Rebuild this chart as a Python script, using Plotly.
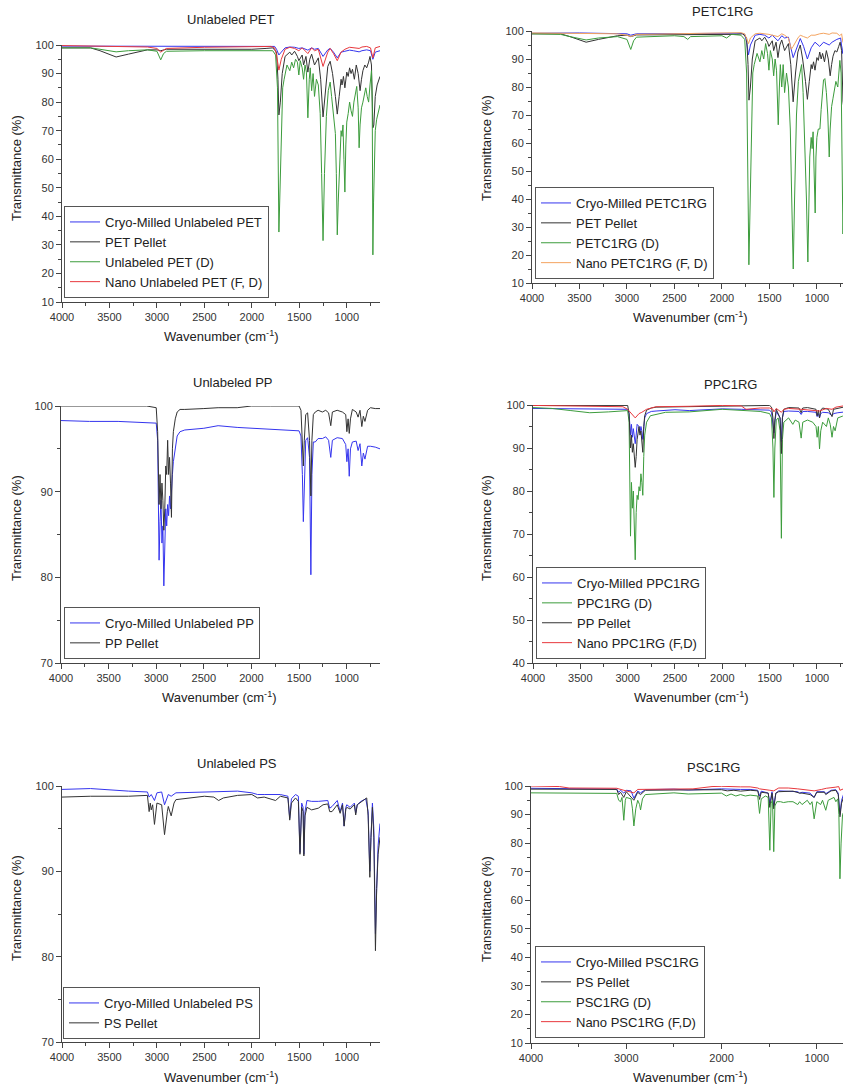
import plotly.graph_objects as go

W, H = 843, 1084
FONT = "Liberation Sans, Arial, sans-serif"

# ---------------- data: (wavenumber cm-1, transmittance %) ----------------
# Panel 1: Unlabeled PET
pet_cryo = [(4000,99.6),(3500,99.6),(3000,99.5),(2500,99.5),(2000,99.5),(1800,99.6),(1760,99.5),(1740,98.5),(1715,96.5),(1690,97.5),(1650,99.0),(1600,99.3),(1550,99.2),(1505,98.8),(1470,99.0),(1410,98.2),(1370,99.0),(1340,98.5),(1300,98.8),(1250,96.0),(1200,98.3),(1175,98.8),(1140,97.5),(1100,95.5),(1060,97.5),(1020,97.8),(970,98.2),(930,98.0),(870,97.6),(840,98.0),(790,98.3),(750,98.0),(725,95.0),(700,97.5),(650,98.0)]
pet_pellet = [(4000,99.0),(3700,99.0),(3600,98.0),(3430,95.8),(3300,96.8),(3100,98.3),(3000,98.3),(2960,98.0),(2900,98.5),(2500,98.5),(2000,98.5),(1850,98.8),(1780,99.0),(1740,97.5),(1725,88.0),(1715,75.5),(1700,80.0),(1680,90.0),(1650,96.0),(1600,97.5),(1580,96.5),(1550,97.8),(1520,96.0),(1505,94.5),(1470,96.5),(1455,93.0),(1430,96.0),(1410,90.5),(1390,95.0),(1370,96.8),(1340,93.0),(1300,95.5),(1275,88.0),(1250,74.8),(1225,85.0),(1200,92.5),(1175,94.3),(1150,90.0),(1120,82.0),(1100,75.8),(1080,82.0),(1060,88.0),(1050,86.0),(1035,89.0),(1020,85.0),(1000,90.5),(985,89.0),(970,92.0),(955,90.0),(940,91.5),(920,88.0),(900,93.0),(880,90.0),(870,86.5),(860,84.0),(845,88.0),(830,91.0),(810,93.0),(790,92.0),(770,94.0),(755,96.0),(740,93.0),(730,80.0),(725,71.0),(715,72.0),(700,82.0),(680,86.0),(665,88.0),(650,89.0)]
pet_d = [(4000,99.0),(3700,99.0),(3600,98.5),(3430,97.6),(3300,98.0),(3100,98.3),(3000,97.8),(2960,94.8),(2930,97.0),(2900,97.8),(2500,98.0),(2000,98.0),(1850,98.2),(1780,98.0),(1750,96.5),(1730,85.0),(1715,34.5),(1700,55.0),(1690,75.0),(1675,85.0),(1660,88.0),(1630,93.0),(1600,91.0),(1580,94.0),(1560,92.0),(1540,95.0),(1520,94.0),(1505,89.5),(1490,94.5),(1470,92.0),(1455,88.0),(1440,93.0),(1425,90.5),(1410,74.5),(1395,88.0),(1385,92.0),(1370,84.0),(1355,90.0),(1340,82.0),(1320,88.0),(1300,86.0),(1280,76.0),(1265,55.0),(1250,31.5),(1235,55.0),(1215,75.0),(1195,84.0),(1175,87.0),(1160,82.0),(1140,75.0),(1120,69.0),(1110,55.0),(1100,33.5),(1090,45.0),(1075,62.0),(1060,70.0),(1050,68.0),(1040,72.0),(1030,60.0),(1020,48.5),(1010,65.0),(1000,73.0),(985,76.0),(970,80.0),(955,77.0),(940,75.0),(925,80.0),(910,83.0),(895,85.5),(880,78.0),(870,64.0),(860,72.0),(845,78.0),(830,80.0),(815,83.0),(800,85.0),(785,82.0),(770,80.0),(755,86.0),(740,91.0),(732,80.0),(725,26.5),(718,45.0),(710,62.0),(700,70.0),(685,74.0),(670,76.0),(650,79.0)]
pet_nano = [(4000,99.8),(3500,99.6),(3100,99.3),(3000,98.8),(2960,97.5),(2930,98.2),(2900,98.8),(2500,99.2),(2000,99.4),(1800,99.5),(1760,99.0),(1740,96.5),(1715,91.2),(1690,95.0),(1650,98.5),(1600,99.2),(1550,98.8),(1505,98.0),(1470,99.0),(1410,97.0),(1370,99.0),(1340,98.0),(1300,98.5),(1250,92.5),(1200,97.5),(1175,98.8),(1140,97.0),(1100,94.5),(1060,97.5),(1020,98.5),(970,99.2),(930,99.0),(870,98.8),(840,99.3),(790,99.5),(750,99.0),(725,95.5),(700,99.0),(650,99.5)]

# Panel 2: PETC1RG
petc_cryo = [(4000,99.2),(3500,99.3),(3000,99.0),(2960,98.5),(2900,99.0),(2500,99.0),(2000,99.2),(1800,99.2),(1760,98.8),(1740,96.0),(1720,91.5),(1700,95.0),(1650,98.5),(1600,98.8),(1550,98.5),(1505,97.5),(1470,98.5),(1410,96.5),(1370,98.3),(1340,97.5),(1300,97.8),(1250,90.5),(1200,95.0),(1175,97.3),(1140,94.5),(1100,90.0),(1060,94.0),(1020,96.0),(970,94.5),(930,96.0),(870,95.0),(840,96.0),(790,97.0),(750,97.5),(730,92.0),(715,96.0),(650,97.5)]
petc_pellet = [(4000,99.0),(3700,99.0),(3600,98.0),(3430,96.0),(3300,97.0),(3100,98.3),(3000,98.5),(2960,98.0),(2900,98.6),(2500,98.6),(2000,98.7),(1850,98.8),(1780,99.0),(1740,97.5),(1725,88.0),(1715,75.3),(1700,80.0),(1680,90.0),(1650,96.5),(1600,97.5),(1580,96.5),(1550,97.8),(1520,96.0),(1505,94.5),(1470,96.5),(1455,93.0),(1430,96.0),(1410,90.5),(1390,95.0),(1370,96.8),(1340,93.0),(1300,95.5),(1275,88.0),(1250,74.7),(1225,85.0),(1200,92.5),(1175,95.0),(1150,90.0),(1120,82.0),(1100,75.6),(1080,82.0),(1060,88.0),(1050,86.5),(1035,89.0),(1020,86.0),(1000,90.5),(985,89.5),(970,92.5),(955,90.0),(940,92.0),(920,89.0),(900,93.0),(880,90.0),(870,85.5),(860,84.0),(845,88.0),(830,91.0),(810,93.0),(790,92.5),(770,94.5),(755,96.0),(740,93.0),(730,80.0),(725,75.0),(715,72.0),(700,82.0),(680,86.0),(665,88.0),(650,89.0)]
petc_d = [(4000,99.0),(3700,98.8),(3600,98.0),(3430,96.8),(3300,97.5),(3100,98.0),(3000,97.0),(2960,93.4),(2930,96.5),(2900,97.8),(2500,98.3),(2400,98.0),(2360,97.0),(2330,98.0),(2000,98.3),(1950,97.5),(1900,98.8),(1800,98.5),(1760,97.0),(1740,85.0),(1716,16.5),(1700,45.0),(1690,70.0),(1675,85.0),(1660,88.0),(1630,92.0),(1600,89.0),(1580,93.0),(1560,90.0),(1540,95.5),(1520,92.0),(1505,86.0),(1490,93.0),(1470,90.0),(1455,84.0),(1440,90.0),(1425,86.0),(1407,66.5),(1395,80.0),(1385,88.0),(1370,80.0),(1355,88.0),(1340,78.0),(1320,85.0),(1300,80.0),(1280,65.0),(1265,40.0),(1249,15.0),(1235,40.0),(1215,70.0),(1195,82.0),(1175,86.0),(1161,88.0),(1145,78.0),(1125,60.0),(1110,40.0),(1095,17.5),(1085,35.0),(1075,55.0),(1060,62.0),(1050,58.0),(1040,64.0),(1030,50.0),(1018,35.0),(1010,55.0),(1000,62.0),(985,65.0),(968,65.0),(955,72.0),(940,78.0),(930,82.5),(916,83.0),(900,78.0),(885,70.0),(870,55.0),(860,65.0),(845,73.0),(830,76.0),(815,80.0),(800,82.0),(780,80.0),(758,89.5),(745,85.0),(735,60.0),(726,27.5),(715,40.0),(700,60.0),(650,75.0)]
petc_nano = [(4000,99.3),(3500,99.2),(3100,99.0),(3000,98.5),(2960,98.0),(2900,98.8),(2500,99.0),(2000,99.2),(1800,99.4),(1760,99.0),(1740,97.5),(1720,95.5),(1700,97.5),(1650,99.0),(1600,99.2),(1505,98.8),(1410,98.0),(1370,99.0),(1340,98.5),(1300,97.5),(1270,93.5),(1250,94.5),(1200,97.5),(1175,98.5),(1140,98.0),(1100,97.5),(1060,98.5),(1020,98.5),(970,99.0),(930,99.2),(870,98.8),(840,99.3),(790,99.2),(760,98.3),(740,99.0),(726,96.0),(700,97.0),(650,98.0)]

# Panel 3: Unlabeled PP
pp_cryo = [(4000,98.3),(3700,98.2),(3400,98.2),(3100,98.1),(3000,98.0),(2985,96.0),(2970,82.0),(2960,86.5),(2950,89.0),(2940,84.0),(2930,86.0),(2920,79.0),(2910,84.5),(2900,88.0),(2890,86.0),(2880,88.5),(2870,87.2),(2860,89.5),(2850,88.0),(2840,90.5),(2830,92.0),(2820,93.5),(2800,95.0),(2780,96.5),(2750,97.0),(2700,97.2),(2500,97.4),(2350,97.7),(2150,97.5),(2000,97.4),(1800,97.3),(1600,97.2),(1500,97.1),(1480,96.5),(1465,92.0),(1455,86.5),(1445,92.0),(1430,96.0),(1410,96.3),(1390,94.0),(1376,80.3),(1365,92.0),(1350,95.8),(1330,95.8),(1300,96.2),(1255,96.2),(1220,96.4),(1190,96.0),(1167,94.0),(1150,96.0),(1100,96.3),(1045,96.2),(1010,95.5),(998,93.5),(985,95.0),(973,91.8),(960,95.0),(940,95.8),(900,95.9),(880,94.8),(860,95.6),(841,93.0),(825,94.5),(808,93.8),(780,95.3),(750,95.3),(700,95.2),(650,95.0)]
pp_pellet = [(4000,100.0),(3100,100.0),(3000,99.8),(2985,97.0),(2970,88.5),(2960,92.0),(2950,88.0),(2940,91.0),(2930,89.0),(2920,85.5),(2910,88.0),(2900,93.0),(2890,92.0),(2880,96.0),(2870,92.0),(2860,94.0),(2850,91.0),(2840,87.0),(2830,95.0),(2820,97.0),(2800,98.5),(2780,99.3),(2750,99.6),(2700,99.6),(2500,99.7),(2350,99.8),(2150,99.8),(2000,100.0),(1800,100.0),(1600,100.0),(1500,100.0),(1480,99.5),(1465,96.0),(1455,93.0),(1445,96.0),(1430,99.0),(1410,99.2),(1390,96.0),(1376,89.5),(1365,96.0),(1350,99.0),(1330,99.3),(1300,99.5),(1255,99.3),(1220,99.5),(1190,99.2),(1167,97.7),(1150,99.3),(1100,99.5),(1045,99.3),(1010,99.0),(998,97.0),(985,98.5),(973,96.8),(960,98.5),(940,99.6),(900,99.3),(880,98.7),(860,99.5),(841,97.6),(825,98.8),(808,98.2),(780,99.5),(750,99.8),(700,99.7),(650,99.7)]

# Panel 4: PPC1RG
ppc_cryo = [(4000,99.2),(3500,99.1),(3000,99.0),(2985,98.0),(2970,93.0),(2960,95.5),(2950,92.5),(2940,94.5),(2930,92.0),(2920,91.0),(2910,93.0),(2900,95.5),(2880,95.0),(2870,93.5),(2860,95.0),(2850,94.0),(2840,92.0),(2830,95.0),(2820,97.0),(2800,98.0),(2750,98.5),(2700,98.6),(2500,98.9),(2350,98.7),(2000,99.1),(1800,99.0),(1600,98.8),(1500,98.8),(1480,98.3),(1465,96.0),(1455,93.5),(1445,96.0),(1430,98.5),(1390,97.0),(1376,91.5),(1365,97.0),(1350,98.5),(1300,98.6),(1190,98.5),(1167,97.8),(1150,98.5),(1100,98.5),(1010,98.3),(998,97.3),(985,98.0),(973,97.0),(960,98.0),(940,98.3),(880,98.2),(841,97.5),(825,98.0),(780,98.2),(700,98.4)]
ppc_d = [(4000,99.4),(3800,99.2),(3600,98.7),(3400,98.2),(3200,98.4),(3000,98.7),(2985,96.0),(2970,69.5),(2960,82.0),(2950,76.0),(2940,80.0),(2930,70.0),(2920,64.0),(2910,75.0),(2900,79.0),(2890,78.0),(2880,81.0),(2870,80.0),(2860,84.0),(2850,82.0),(2840,79.0),(2830,88.0),(2820,93.0),(2800,96.0),(2760,97.5),(2600,98.3),(2350,98.4),(2000,99.0),(1800,98.8),(1600,98.5),(1500,98.0),(1480,97.0),(1465,90.0),(1455,78.5),(1445,90.0),(1430,96.5),(1410,97.0),(1390,94.0),(1376,69.0),(1365,92.0),(1350,96.0),(1300,97.0),(1255,95.5),(1230,96.5),(1190,96.0),(1167,92.3),(1150,96.0),(1100,96.5),(1045,96.0),(1010,95.0),(998,92.5),(985,95.0),(973,89.8),(960,94.0),(940,96.0),(900,95.0),(880,97.0),(860,95.5),(841,92.5),(825,95.0),(808,94.0),(780,97.0),(730,97.4),(700,97.4)]
ppc_pellet = [(4000,99.9),(3000,99.9),(2985,98.0),(2970,90.0),(2960,93.0),(2950,89.0),(2940,91.0),(2930,88.0),(2920,85.5),(2910,88.0),(2900,92.0),(2880,95.0),(2870,93.0),(2860,94.0),(2850,92.0),(2840,89.0),(2830,95.0),(2820,97.5),(2800,98.8),(2750,99.3),(2700,99.5),(2000,99.8),(1800,99.9),(1500,99.9),(1480,99.5),(1465,97.0),(1455,92.2),(1445,96.5),(1430,99.0),(1390,97.0),(1376,88.7),(1365,97.0),(1350,99.0),(1300,99.4),(1190,99.3),(1167,98.2),(1150,99.3),(1100,99.4),(1010,99.0),(998,97.5),(985,98.8),(973,97.0),(960,98.8),(940,99.3),(880,99.0),(841,97.3),(825,99.0),(780,99.2),(700,99.6)]
ppc_nano = [(4000,99.9),(3500,99.8),(3050,99.6),(3000,99.0),(2960,98.0),(2920,97.0),(2880,98.0),(2850,98.3),(2800,99.0),(2700,99.6),(2350,99.7),(2000,99.9),(1800,99.8),(1750,99.0),(1600,99.3),(1500,99.3),(1465,99.0),(1455,98.4),(1430,99.2),(1376,98.3),(1350,99.0),(1300,99.2),(1167,99.0),(1000,98.7),(973,98.6),(900,99.2),(841,99.0),(800,99.5),(720,99.8)]

# Panel 5: Unlabeled PS
ps_cryo = [(4000,99.6),(3700,99.7),(3300,99.4),(3100,99.3),(3082,98.7),(3060,99.0),(3026,98.3),(3000,99.2),(2950,99.3),(2920,97.8),(2880,99.0),(2850,98.8),(2800,99.2),(2500,99.3),(2350,99.3),(2150,99.4),(2000,99.2),(1940,99.0),(1870,99.0),(1800,99.0),(1700,99.0),(1620,98.8),(1601,96.2),(1583,98.5),(1540,99.0),(1510,98.8),(1493,92.2),(1475,98.0),(1460,97.5),(1452,92.0),(1440,97.0),(1420,98.3),(1370,98.2),(1300,98.2),(1200,98.3),(1180,97.4),(1155,97.6),(1100,98.3),(1070,97.0),(1045,98.0),(1028,95.3),(1010,97.5),(1000,97.8),(965,97.5),(920,98.0),(906,96.8),(890,97.8),(850,98.2),(800,98.5),(775,97.0),(757,90.0),(745,94.0),(730,98.0),(715,95.0),(698,82.7),(685,88.0),(670,93.0),(650,95.6)]
ps_pellet = [(4000,98.7),(3700,98.8),(3300,98.8),(3100,98.9),(3082,97.0),(3070,98.0),(3060,97.2),(3045,97.8),(3026,95.5),(3010,97.5),(3000,98.0),(2950,97.8),(2920,94.3),(2890,97.0),(2880,97.6),(2850,96.5),(2820,98.0),(2800,98.4),(2500,98.8),(2400,98.7),(2350,98.3),(2300,98.6),(2200,98.8),(2150,98.9),(2000,99.0),(1940,98.6),(1870,98.7),(1800,98.5),(1750,98.3),(1700,98.8),(1620,98.6),(1601,96.0),(1583,98.0),(1540,98.6),(1510,98.2),(1493,92.0),(1475,97.5),(1460,97.0),(1452,91.8),(1440,96.5),(1420,97.5),(1370,97.2),(1300,97.4),(1250,97.8),(1200,97.9),(1180,97.0),(1155,97.0),(1100,97.8),(1070,96.8),(1045,97.8),(1028,95.3),(1010,97.3),(1000,97.5),(965,97.3),(920,97.8),(906,96.6),(890,97.8),(840,98.2),(790,98.6),(775,96.5),(757,89.3),(745,94.0),(730,97.5),(715,94.0),(698,80.7),(685,88.0),(670,92.0),(650,94.0)]

# Panel 6: PSC1RG
psc_cryo = [(4000,99.2),(3600,99.0),(3100,98.9),(3080,97.8),(3060,98.5),(3026,97.5),(3000,98.5),(2950,98.3),(2920,95.7),(2880,98.2),(2850,97.6),(2800,98.7),(2500,98.9),(2350,98.6),(2000,99.0),(1800,98.8),(1700,98.8),(1620,98.5),(1601,96.5),(1583,98.2),(1510,97.5),(1493,94.0),(1470,98.0),(1452,93.0),(1430,97.5),(1400,98.3),(1300,98.2),(1200,98.0),(1180,97.5),(1155,97.8),(1070,97.5),(1028,96.0),(1000,98.0),(920,98.0),(906,97.3),(850,98.5),(800,98.7),(775,97.5),(757,90.0),(740,95.0),(720,97.0),(700,96.0),(650,97.0)]
psc_pellet = [(4000,98.9),(3100,98.8),(3080,97.0),(3060,97.8),(3026,96.0),(3000,98.0),(2920,95.0),(2880,97.8),(2850,97.0),(2800,98.5),(2500,98.6),(2000,98.7),(1940,98.3),(1870,98.5),(1800,98.2),(1700,98.5),(1620,98.3),(1601,95.3),(1583,97.8),(1510,97.5),(1493,92.5),(1470,97.5),(1452,92.0),(1430,97.5),(1400,98.0),(1300,98.0),(1250,98.2),(1180,97.5),(1155,97.5),(1070,97.0),(1028,96.0),(1000,97.8),(920,97.8),(906,97.0),(850,98.3),(800,98.5),(775,97.0),(757,89.2),(740,94.0),(720,96.0),(700,93.0),(650,95.0)]
psc_d = [(4000,97.6),(3600,97.5),(3100,97.4),(3080,95.0),(3060,94.5),(3045,96.0),(3026,88.0),(3010,95.0),(3000,96.0),(2950,95.5),(2935,92.0),(2920,86.0),(2900,92.0),(2880,95.0),(2860,93.5),(2850,91.6),(2830,95.5),(2800,97.0),(2500,97.6),(2350,97.2),(2000,97.5),(1950,96.5),(1900,97.2),(1850,96.5),(1800,97.0),(1750,96.5),(1700,96.8),(1620,96.5),(1601,90.4),(1583,95.5),(1540,96.5),(1510,96.0),(1493,77.5),(1480,94.0),(1465,95.0),(1452,77.0),(1440,93.0),(1420,94.5),(1380,94.5),(1350,94.2),(1300,94.5),(1250,94.5),(1200,93.5),(1180,94.5),(1155,93.5),(1100,95.0),(1070,93.5),(1050,94.5),(1028,88.5),(1000,94.5),(960,93.5),(940,95.0),(906,91.5),(880,95.0),(840,95.5),(820,96.0),(800,94.5),(780,95.5),(768,90.0),(757,67.5),(745,80.0),(730,90.0),(700,92.0),(650,93.0)]
psc_nano = [(4000,100.0),(3700,99.8),(3600,99.3),(3100,99.2),(3026,98.5),(2920,97.6),(2880,98.8),(2500,99.0),(2400,99.2),(2300,99.0),(2100,99.8),(2000,99.9),(1800,99.7),(1700,99.7),(1620,99.3),(1601,99.0),(1493,98.5),(1452,98.3),(1400,99.3),(1300,99.3),(1200,99.0),(1028,98.3),(950,98.8),(900,99.2),(800,99.6),(770,99.8),(757,98.5),(720,99.0),(650,99.0)]

# ---------------- styling ----------------
BLUE, BLACK, GREEN, RED, ORANGE = "#3535ee", "#333333", "#3c9c3c", "#e8383d", "#f4a460"

panels = [
    dict(title="Unlabeled PET", box=(62, 380, 45, 302), xr=(4000, 650), yr=(10, 100), ydt=10, xdt=500,
         title_xy=(230, 20), ytitle_xy=(16, 168), xtitle_xy=(221, 336), legend_xy=(64, 298),
         series=[("Cryo-Milled Unlabeled PET", pet_cryo, BLUE), ("PET Pellet", pet_pellet, BLACK),
                 ("Unlabeled PET (D)", pet_d, GREEN), ("Nano Unlabeled PET (F, D)", pet_nano, RED)]),
    dict(title="PETC1RG", box=(532, 843, 31, 283), xr=(4000, 725), yr=(10, 100), ydt=10, xdt=500,
         title_xy=(722, 12), ytitle_xy=(486, 148), xtitle_xy=(690, 317), legend_xy=(535, 279),
         series=[("Cryo-Milled PETC1RG", petc_cryo, BLUE), ("PET Pellet", petc_pellet, BLACK),
                 ("PETC1RG (D)", petc_d, GREEN), ("Nano PETC1RG (F, D)", petc_nano, ORANGE)]),
    dict(title="Unlabeled PP", box=(61, 380, 406, 663), xr=(4000, 650), yr=(70, 100), ydt=10, xdt=500,
         title_xy=(233, 382), ytitle_xy=(16, 528), xtitle_xy=(219, 697), legend_xy=(64, 659),
         series=[("Cryo-Milled Unlabeled PP", pp_cryo, BLUE), ("PP Pellet", pp_pellet, BLACK)]),
    dict(title="PPC1RG", box=(533, 843, 405, 663), xr=(4000, 725), yr=(40, 100), ydt=10, xdt=500,
         title_xy=(730, 384), ytitle_xy=(486, 528), xtitle_xy=(691, 697), legend_xy=(536, 659),
         series=[("Cryo-Milled PPC1RG", ppc_cryo, BLUE), ("PPC1RG (D)", ppc_d, GREEN),
                 ("PP Pellet", ppc_pellet, BLACK), ("Nano PPC1RG (F,D)", ppc_nano, RED)]),
    dict(title="Unlabeled PS", box=(62, 380, 786, 1042), xr=(4000, 650), yr=(70, 100), ydt=10, xdt=500,
         title_xy=(237, 763), ytitle_xy=(16, 908), xtitle_xy=(221, 1077), legend_xy=(63, 1039),
         series=[("Cryo-Milled Unlabeled PS", ps_cryo, BLUE), ("PS Pellet", ps_pellet, BLACK)]),
    dict(title="PSC1RG", box=(531, 843, 786, 1043), xr=(4000, 725), yr=(10, 100), ydt=10, xdt=1000,
         title_xy=(713, 767), ytitle_xy=(486, 909), xtitle_xy=(690, 1077), legend_xy=(535, 1038),
         series=[("Cryo-Milled PSC1RG", psc_cryo, BLUE), ("PS Pellet", psc_pellet, BLACK),
                 ("PSC1RG (D)", psc_d, GREEN), ("Nano PSC1RG (F,D)", psc_nano, RED)]),
]

def fx(p):
    return p / W

def fy(p):
    return 1 - p / H

fig = go.Figure()
layout = dict(width=W, height=H, margin=dict(l=0, r=0, t=0, b=0, pad=0, autoexpand=False),
              paper_bgcolor="white", plot_bgcolor="rgba(0,0,0,0)",
              font=dict(family=FONT, color="#222"), showlegend=True)
annotations = []

AX = "#444444"
for i, p in enumerate(panels, start=1):
    sfx = "" if i == 1 else str(i)
    xa, ya, lg = "x" + sfx, "y" + sfx, "legend" + sfx
    for name, pts, col in p["series"]:
        fig.add_trace(go.Scatter(x=[a for a, _ in pts], y=[b for _, b in pts], mode="lines",
                                 name=name, line=dict(color=col, width=1),
                                 xaxis=xa, yaxis=ya, legend=lg))
    x0, x1, y0, y1 = p["box"]
    layout["xaxis" + sfx] = dict(domain=[fx(x0), min(1.0, fx(x1))], range=list(p["xr"]), anchor=ya,
                                 automargin=False,
                                 showline=True, linecolor=AX, linewidth=1, ticks="outside", ticklen=5,
                                 tickcolor=AX, tickfont=dict(size=11, color="#333"), dtick=p["xdt"], tick0=0,
                                 minor=dict(dtick=p["xdt"] / 2, ticks="outside", ticklen=3, tickcolor=AX),
                                 showgrid=False, zeroline=False)
    layout["yaxis" + sfx] = dict(domain=[fy(y1), fy(y0)], range=list(p["yr"]), anchor=xa,
                                 automargin=False,
                                 showline=True, linecolor=AX, linewidth=1, ticks="outside", ticklen=5,
                                 tickcolor=AX, tickfont=dict(size=11, color="#333"), dtick=p["ydt"], tick0=0,
                                 minor=dict(dtick=p["ydt"] / 2, ticks="outside", ticklen=3, tickcolor=AX),
                                 showgrid=False, zeroline=False)
    lx, ly = p["legend_xy"]
    layout[lg] = dict(x=fx(lx), y=fy(ly), xanchor="left", yanchor="bottom", bgcolor="rgba(255,255,255,0)",
                      bordercolor="#555", borderwidth=1, font=dict(size=13, color="#222"),
                      itemwidth=30, traceorder="normal", tracegroupgap=0)
    tx, ty = p["title_xy"]
    annotations.append(dict(text=p["title"], x=fx(tx), y=fy(ty), xref="paper", yref="paper",
                            showarrow=False, xanchor="center", yanchor="middle", font=dict(size=13, color="#222")))
    yx, yy = p["ytitle_xy"]
    annotations.append(dict(text="Transmittance (%)", x=fx(yx), y=fy(yy), xref="paper", yref="paper",
                            showarrow=False, textangle=-90, xanchor="center", yanchor="middle",
                            font=dict(size=13, color="#222")))
    wx, wy = p["xtitle_xy"]
    annotations.append(dict(text="Wavenumber (cm<sup>-1</sup>)", x=fx(wx), y=fy(wy), xref="paper", yref="paper",
                            showarrow=False, xanchor="center", yanchor="middle", font=dict(size=13, color="#222")))

layout["annotations"] = annotations
fig.update_layout(**layout)
fig.write_html("out.html", post_script="document.body.style.margin='0px';")
